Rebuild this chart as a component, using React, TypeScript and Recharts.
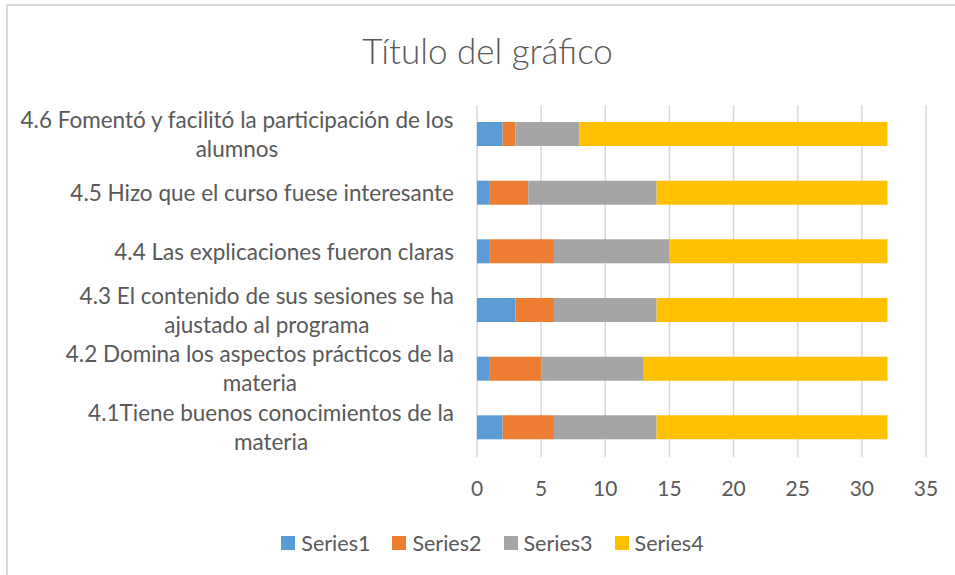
import { BarChart, Bar, XAxis, YAxis, CartesianGrid, Legend } from "recharts";

// categories top to bottom as drawn; "\n" marks where the label wraps
const categories = [
  "4.6 Fomentó y facilitó la participación de los\nalumnos",
  "4.5 Hizo que el curso fuese interesante",
  "4.4 Las explicaciones fueron claras",
  "4.3 El contenido de sus sesiones se ha\najustado al programa",
  "4.2 Domina los aspectos prácticos de la\nmateria",
  "4.1Tiene buenos conocimientos de la\nmateria",
];

const series1 = [2, 1, 1, 3, 1, 2];
const series2 = [1, 3, 5, 3, 4, 4];
const series3 = [5, 10, 9, 8, 8, 8];
const series4 = [24, 18, 17, 18, 19, 18];

const seriesNames = ["Series1", "Series2", "Series3", "Series4"];
const seriesColors = ["#5b9bd5", "#ed7d31", "#a5a5a5", "#ffc000"];
const xTicks = [0, 5, 10, 15, 20, 25, 30, 35];

const data = categories.map((name, i) => ({
  name,
  Series1: series1[i],
  Series2: series2[i],
  Series3: series3[i],
  Series4: series4[i],
}));

const FONT = "Lato, 'Open Sans', sans-serif";
const TEXT = "#595959";
const TICK_SIZE = 21;
const CAT_SIZE = 22.5;

let ctx: CanvasRenderingContext2D | null = null;
function measure(s: string) {
  if (!ctx) ctx = document.createElement("canvas").getContext("2d");
  if (!ctx) return s.length * CAT_SIZE * 0.5;
  ctx.font = `${CAT_SIZE}px Lato`;
  return ctx.measureText(s).width;
}

// right-aligned block, each line centred inside the block (like Excel)
function CategoryTick(props: any) {
  const { x, y, payload } = props;
  const lines: string[] = String(payload.value).split("\n");
  const lh = 29;
  const w = Math.max(...lines.map(measure));
  const cx = x - w / 2;
  const top = y - ((lines.length - 1) * lh) / 2;
  return (
    <text textAnchor="middle" fontFamily={FONT} fontSize={CAT_SIZE} fill={TEXT}>
      {lines.map((l, i) => (
        <tspan key={i} x={cx} y={top + i * lh} dy="0.35em">
          {l}
        </tspan>
      ))}
    </text>
  );
}

function LegendBox() {
  return (
    <div
      style={{
        display: "flex",
        justifyContent: "center",
        gap: 22,
        fontFamily: FONT,
        fontSize: TICK_SIZE + 0.5,
        color: TEXT,
        lineHeight: "30px",
        paddingLeft: 30,
      }}
    >
      {seriesNames.map((n, i) => (
        <div key={n} style={{ display: "flex", alignItems: "center" }}>
          <span
            style={{
              width: 14,
              height: 14,
              background: seriesColors[i],
              marginRight: 6,
              display: "inline-block",
            }}
          />
          {n}
        </div>
      ))}
    </div>
  );
}

export default function App() {
  return (
    <div
      style={{
        position: "absolute",
        left: 0,
        top: 0,
        width: 955,
        height: 575,
        background: "#fff",
        overflow: "hidden",
      }}
    >
      <div
        style={{
          position: "absolute",
          left: 6,
          top: 4,
          width: 1000,
          height: 600,
          borderTop: "2px solid #d9d9d9",
          borderLeft: "2px solid #d9d9d9",
        }}
      />
      <div
        style={{
          position: "absolute",
          left: 0,
          width: 975,
          top: 27,
          textAlign: "center",
          fontFamily: FONT,
          fontWeight: 300,
          fontSize: 35,
          color: TEXT,
          lineHeight: "46px",
        }}
      >
        Título del gráfico
      </div>
      <div style={{ position: "absolute", left: 0, top: 0 }}>
        <BarChart
          width={955}
          height={575}
          data={data}
          layout="vertical"
          barSize={24}
          margin={{ top: 105, right: 29, bottom: 38, left: 0 }}
        >
          <CartesianGrid horizontal={false} stroke="#d9d9d9" strokeWidth={1.5} />
          <XAxis
            type="number"
            domain={[0, 35]}
            ticks={xTicks}
            axisLine={false}
            tickLine={false}
            tickMargin={18}
            height={50}
            tick={{ fontSize: TICK_SIZE, fill: TEXT, fontFamily: FONT }}
          />
          <YAxis
            type="category"
            dataKey="name"
            width={477}
            axisLine={false}
            tickLine={false}
            tickMargin={17}
            interval={0}
            tick={<CategoryTick />}
          />
          {seriesNames.map((n, i) => (
            <Bar
              key={n}
              dataKey={n}
              stackId="a"
              fill={seriesColors[i]}
              isAnimationActive={false}
            />
          ))}
          <Legend
            content={<LegendBox />}
            wrapperStyle={{ top: 528, left: 0, width: 955, height: 30 }}
          />
        </BarChart>
      </div>
    </div>
  );
}
